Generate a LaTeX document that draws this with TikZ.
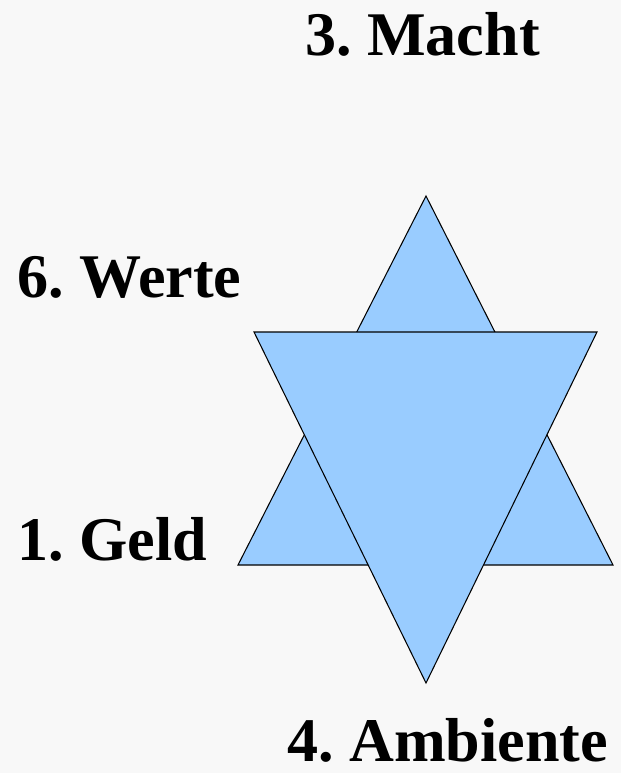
\documentclass[tikz,border=0pt]{standalone}
\usepackage{fontspec}
\setmainfont{Liberation Serif}
\definecolor{bgray}{HTML}{F8F8F8}
\definecolor{starblue}{HTML}{99CCFF}
\frenchspacing

\begin{document}
\begin{tikzpicture}[
  x=0.03cm,y=-0.03cm,
  tri/.style={draw=black,fill=starblue,line width=0.9pt,line join=miter},
  lbl/.style={anchor=base west,inner sep=0pt,font=\fontsize{53}{60}\selectfont\bfseries}
]
  \fill[bgray] (0,0) rectangle (621,773);
  \useasboundingbox (0,0) rectangle (621,773);
  % upward triangle
  \coordinate (ut) at (426,196);
  \coordinate (ul) at (238,565);
  \coordinate (ur) at (613,565);
  % downward triangle
  \coordinate (dl) at (254,332);
  \coordinate (dr) at (597,332);
  \coordinate (db) at (426,683);
  \draw[tri] (ut)--(ur)--(ul)--cycle;
  \draw[tri] (dl)--(dr)--(db)--cycle;
  \node[lbl] (macht) at (305,55) {3. Macht};
  \node[lbl] (werte) at (17,297) {6. Werte};
  \node[lbl] (geld) at (17,560) {1. Geld};
  \node[lbl] (ambiente) at (287,761) {4. Ambiente};
\end{tikzpicture}
\end{document}
